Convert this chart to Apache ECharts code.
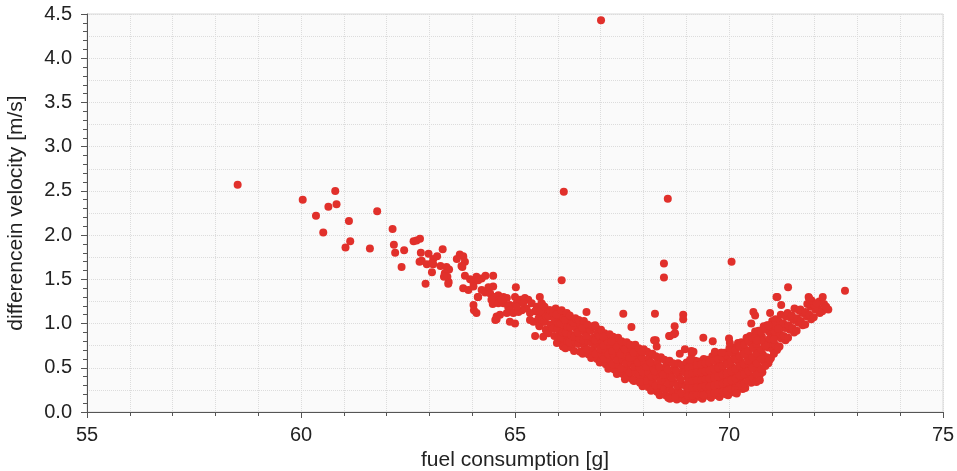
<!DOCTYPE html>
<html>
<head>
<meta charset="utf-8">
<script src="https://cdn.jsdelivr.net/npm/echarts@6/dist/echarts.min.js"></script>
<style>html,body{margin:0;padding:0;background:#fff;}#c{width:957px;height:471px;}</style>
</head>
<body>
<div id="c"></div>
<script>
// ---- data (fuel consumption [g], differencein velocity [m/s]) ----
const xTickLabels = [55, 60, 65, 70, 75];
const yTickLabels = [0.0, 0.5, 1.0, 1.5, 2.0, 2.5, 3.0, 3.5, 4.0, 4.5];

const outlierPoints = [
  [67.01,4.43],[66.14,2.49],[68.57,2.41],[70.06,1.70],[68.48,1.68],[68.48,1.52],
  [66.09,1.49],[72.71,1.37],[71.38,1.41],[67.53,1.11],[68.27,1.11],[68.93,1.10],
  [68.93,1.05],[68.73,0.97],[67.72,0.96],[66.67,1.13]
];

const leftSparse = [
  [58.52,2.57],[60.04,2.40],[60.80,2.50],[60.64,2.32],[60.83,2.35],[60.35,2.22],
  [61.12,2.16],[60.52,2.03],[61.78,2.27],[61.15,1.93],[61.04,1.86],[61.61,1.85],
  [62.14,2.07],[62.17,1.89],[62.20,1.80],[62.41,1.83],[62.35,1.64]
];

const upperBranch = [
  [62.63,1.93],[62.70,1.94],[62.78,1.96],[62.80,1.80],[62.98,1.79],[62.77,1.70],
  [62.82,1.71],[62.94,1.67],[62.91,1.45],[63.31,1.84],[63.09,1.73],[63.18,1.76],
  [63.09,1.67],[63.06,1.58],[63.05,1.68],[63.26,1.65],[63.40,1.64],[63.46,1.61],
  [63.36,1.57],[63.42,1.53],[63.45,1.47],[63.44,1.45],[63.34,1.53],[63.71,1.78],
  [63.79,1.76],[63.64,1.73],[63.83,1.70],[63.77,1.64],[63.75,1.65],[63.83,1.54],
  [63.95,1.50],[64.10,1.53],[64.22,1.51],[64.31,1.54],[64.49,1.54],[64.03,1.46],
  [64.14,1.49],[63.79,1.40],[63.91,1.38],[64.03,1.42],[64.14,1.30],[64.30,1.35],
  [64.38,1.41],[64.49,1.42],[64.42,1.34],[64.53,1.30],[64.61,1.32],[64.22,1.38],
  [64.03,1.21],[64.10,1.12],[64.13,1.30],[64.48,1.22],[64.54,1.04],[64.04,1.15],
  [64.57,1.30],[64.65,1.27],[64.73,1.30],[64.81,1.29],[64.61,1.23],[64.73,1.23],
  [64.88,1.21],[65.02,1.41],[65.00,1.30],[65.04,1.23],[64.57,1.08],[64.65,1.10],
  [64.84,1.19],[64.88,1.15],[64.96,1.12],[65.00,1.00],[64.88,1.02],[64.45,1.27],
  [64.69,1.27],[64.81,1.12],[64.57,1.05]
];

const midBand = [
  [65.12,1.27],[65.23,1.29],[65.31,1.27],[65.39,1.23],[65.51,1.19],[65.58,1.30],
  [65.62,1.23],[65.47,1.14],[65.35,1.04],[65.43,1.02],[65.58,1.10],[65.66,1.15],
  [65.74,1.12],[65.47,0.86],[65.66,0.85],[65.74,0.91],[65.90,1.10],[65.97,1.04],
  [66.05,1.08],[66.13,1.00],[66.21,0.96],[65.19,1.23],[65.27,1.17],[65.16,1.15],
  [65.08,1.13],[65.04,1.19],[65.35,1.12],[65.51,1.15],[65.57,0.98],[65.70,1.02],
  [65.86,1.12],[66.09,1.12],[66.01,0.98],[65.90,0.96],[66.05,0.91],[66.17,0.96],
  [66.21,0.85],[66.09,0.81],[66.13,0.74],[66.25,0.91],[66.25,1.04],[65.55,1.06],
  [65.80,1.15],[65.95,1.17],[66.17,1.10],[66.30,1.05]
];

// dense descending part of the V (65.6 .. 68.9 g)
const denseDescending = [
  [65.57,0.97],[65.63,1.04],[65.59,1.14],[65.64,1.21],[65.72,0.93],[65.68,1.02],[65.73,1.08],[65.69,1.19],
  [65.78,0.89],[65.83,0.99],[65.79,1.08],[65.82,1.15],[65.92,0.86],[65.88,0.94],[65.93,1.05],[65.89,1.12],
  [65.98,0.78],[66.03,0.84],[65.99,0.94],[66.02,1.00],[65.97,1.10],
  [66.12,0.74],[66.08,0.84],[66.11,0.90],[66.07,1.00],[66.13,1.06],[66.09,1.15],
  [66.18,0.72],[66.22,0.80],[66.19,0.90],[66.23,0.96],[66.17,1.04],[66.21,1.12],
  [66.32,0.73],[66.27,0.79],[66.31,0.87],[66.29,0.96],[66.33,1.02],[66.28,1.09],
  [66.38,0.69],[66.42,0.79],[66.39,0.85],[66.43,0.94],[66.37,1.01],[66.41,1.06],
  [66.52,0.68],[66.48,0.77],[66.51,0.83],[66.47,0.90],[66.53,0.99],[66.49,1.04],
  [66.58,0.66],[66.62,0.75],[66.59,0.81],[66.63,0.90],[66.57,0.95],[66.61,1.03],
  [66.72,0.65],[66.68,0.71],[66.71,0.80],[66.67,0.86],[66.73,0.95],[66.69,0.99],
  [66.78,0.61],[66.82,0.70],[66.79,0.78],[66.83,0.84],[66.77,0.92],[66.81,0.97],
  [66.92,0.60],[66.88,0.66],[66.91,0.76],[66.87,0.81],[66.93,0.89],[66.89,0.96],
  [66.98,0.56],[67.02,0.66],[66.99,0.71],[67.03,0.80],[66.97,0.86],[67.01,0.93],
  [67.12,0.54],[67.08,0.60],[67.11,0.70],[67.07,0.75],[67.13,0.84],[67.09,0.89],
  [67.18,0.49],[67.22,0.59],[67.19,0.65],[67.23,0.74],[67.17,0.80],[67.21,0.88],
  [67.32,0.48],[67.28,0.54],[67.31,0.64],[67.27,0.69],[67.33,0.79],[67.29,0.85],
  [67.38,0.43],[67.42,0.53],[67.39,0.59],[67.43,0.69],[67.37,0.75],[67.41,0.84],
  [67.52,0.43],[67.48,0.49],[67.51,0.59],[67.47,0.65],[67.53,0.75],[67.49,0.80],
  [67.58,0.39],[67.62,0.49],[67.59,0.55],[67.63,0.65],[67.57,0.71],[67.61,0.79],
  [67.72,0.38],[67.68,0.45],[67.71,0.55],[67.67,0.61],[67.73,0.71],[67.69,0.76],
  [67.78,0.35],[67.82,0.45],[67.79,0.51],[67.83,0.61],[67.77,0.67],[67.81,0.76],
  [67.92,0.33],[67.88,0.40],[67.91,0.50],[67.87,0.56],[67.93,0.66],[67.89,0.72],
  [67.98,0.29],[68.02,0.39],[67.99,0.45],[68.03,0.55],[67.97,0.61],[68.01,0.71],
  [68.12,0.28],[68.08,0.35],[68.11,0.45],[68.07,0.51],[68.13,0.61],[68.09,0.68],
  [68.18,0.24],[68.22,0.34],[68.19,0.40],[68.23,0.50],[68.17,0.56],[68.21,0.66],
  [68.32,0.23],[68.28,0.30],[68.31,0.40],[68.27,0.46],[68.33,0.56],[68.29,0.63],
  [68.38,0.19],[68.42,0.29],[68.39,0.35],[68.43,0.45],[68.37,0.51],[68.41,0.62],
  [68.52,0.19],[68.48,0.26],[68.51,0.36],[68.47,0.42],[68.53,0.52],[68.49,0.59],
  [68.58,0.16],[68.62,0.26],[68.59,0.32],[68.63,0.42],[68.57,0.48],[68.61,0.58],
  [68.72,0.16],[68.68,0.23],[68.71,0.33],[68.67,0.39],[68.73,0.49],[68.69,0.55],
  [68.78,0.14],[68.82,0.24],[68.79,0.30],[68.83,0.40],[68.77,0.46],[68.81,0.55],
  [68.92,0.15],[68.88,0.21],[68.91,0.31],[68.87,0.37],[68.93,0.47],[68.89,0.53]
];

// dense valley and rising part of the V (69.0 .. 72.2 g)
const denseRising = [
  [68.98,0.13],[69.02,0.23],[68.99,0.29],[69.03,0.39],[68.97,0.45],[69.01,0.56],
  [69.12,0.15],[69.08,0.22],[69.11,0.32],[69.07,0.38],[69.13,0.48],[69.09,0.55],
  [69.18,0.14],[69.22,0.24],[69.19,0.30],[69.23,0.40],[69.17,0.46],[69.21,0.58],
  [69.32,0.17],[69.28,0.23],[69.31,0.33],[69.27,0.39],[69.33,0.49],[69.29,0.57],
  [69.38,0.15],[69.42,0.25],[69.39,0.31],[69.43,0.41],[69.37,0.48],[69.41,0.60],
  [69.52,0.18],[69.48,0.24],[69.51,0.34],[69.47,0.40],[69.53,0.51],[69.49,0.59],
  [69.58,0.16],[69.62,0.26],[69.59,0.33],[69.63,0.43],[69.57,0.50],[69.61,0.63],
  [69.72,0.19],[69.68,0.25],[69.71,0.36],[69.67,0.43],[69.73,0.54],[69.69,0.63],
  [69.78,0.17],[69.82,0.28],[69.79,0.35],[69.83,0.46],[69.77,0.54],[69.81,0.67],
  [69.92,0.20],[69.88,0.27],[69.91,0.39],[69.87,0.46],[69.93,0.58],[69.89,0.67],
  [69.98,0.19],[70.02,0.31],[69.99,0.39],[70.03,0.51],[69.97,0.59],[70.01,0.72],
  [70.12,0.22],[70.08,0.30],[70.11,0.43],[70.07,0.51],[70.13,0.64],[70.09,0.73],
  [70.18,0.22],[70.22,0.35],[70.19,0.44],[70.23,0.56],[70.17,0.65],[70.21,0.78],
  [70.32,0.26],[70.28,0.35],[70.31,0.48],[70.27,0.57],[70.33,0.70],[70.29,0.79],
  [70.38,0.27],[70.42,0.40],[70.39,0.49],[70.43,0.62],[70.37,0.71],[70.41,0.84],
  [70.52,0.33],[70.48,0.42],[70.51,0.55],[70.47,0.64],[70.53,0.77],[70.49,0.86],
  [70.58,0.35],[70.62,0.48],[70.59,0.57],[70.63,0.69],[70.57,0.78],[70.61,0.91],
  [70.72,0.42],[70.68,0.51],[70.71,0.63],[70.67,0.71],[70.73,0.84],[70.69,0.92],
  [70.78,0.45],[70.82,0.57],[70.79,0.65],[70.83,0.77],[70.77,0.85],[70.81,0.97],
  [70.92,0.55],[70.88,0.62],[70.91,0.73],[70.87,0.80],[70.93,0.91],[70.89,0.98],
  [70.98,0.61],[71.02,0.71],[70.99,0.77],[71.03,0.87],[70.97,0.93],[71.01,1.03],
  [71.12,0.70],[71.08,0.76],[71.11,0.86],[71.07,0.91],[71.13,1.00],[71.09,1.05],
  [71.18,0.74],[71.22,0.83],[71.19,0.88],[71.23,0.97],[71.17,1.02],[71.21,1.10],
  [71.32,0.81],[71.28,0.86],[71.31,0.95],[71.27,1.00],[71.33,1.08],
  [71.38,0.84],[71.42,0.93],[71.39,0.98],[71.43,1.07],[71.37,1.12],
  [71.52,0.90],[71.48,0.95],[71.51,1.04],[71.47,1.09],[71.53,1.17],
  [71.58,0.92],[71.62,1.01],[71.59,1.06],[71.63,1.15],[71.72,0.98],[71.68,1.03],[71.71,1.12],[71.67,1.16],
  [71.78,0.99],[71.82,1.08],[71.79,1.13],[71.83,1.22],[71.92,1.05],[71.88,1.10],[71.91,1.19],[71.87,1.22],
  [71.98,1.07],[72.02,1.16],[71.99,1.21],[72.12,1.12],[72.08,1.17],[72.11,1.25],[72.18,1.14],[72.22,1.22]
];

// extra overlapping dots inside the rising mass
const risingFill = [
  [69.05,0.18],[69.05,0.34],[69.05,0.50],[69.15,0.19],[69.15,0.35],[69.15,0.52],
  [69.25,0.20],[69.25,0.36],[69.25,0.53],[69.35,0.20],[69.35,0.36],[69.35,0.54],
  [69.45,0.21],[69.45,0.37],[69.45,0.55],[69.55,0.21],[69.55,0.38],[69.55,0.56],
  [69.65,0.22],[69.65,0.39],[69.65,0.58],[69.75,0.22],[69.75,0.40],[69.75,0.60],
  [69.85,0.23],[69.85,0.42],[69.85,0.62],[69.95,0.24],[69.95,0.44],[69.95,0.64],
  [70.05,0.26],[70.05,0.46],[70.05,0.67],[70.15,0.27],[70.15,0.49],[70.15,0.70],
  [70.25,0.30],[70.25,0.52],[70.25,0.74],[70.35,0.32],[70.35,0.54],[70.35,0.76],
  [70.45,0.35],[70.45,0.58],[70.45,0.80],[70.55,0.39],[70.55,0.62],[70.55,0.84],
  [70.65,0.43],[70.65,0.66],[70.65,0.88],[70.75,0.49],[70.75,0.71],[70.75,0.91],
  [70.85,0.52],[70.85,0.75],[70.85,0.94],[70.95,0.59],[70.95,0.83],[70.95,0.97],
  [71.05,0.66],[71.05,0.82],[71.05,0.98],[71.15,0.73],[71.15,0.94],
  [69.05,0.27],[69.05,0.43],[69.15,0.27],[69.15,0.44],[69.25,0.28],[69.25,0.45],
  [69.35,0.28],[69.35,0.45],[69.45,0.29],[69.45,0.46],[69.55,0.29],[69.55,0.47],
  [69.65,0.30],[69.65,0.49],[69.75,0.31],[69.75,0.50],[69.85,0.32],[69.85,0.52],
  [69.95,0.34],[69.95,0.54],[70.05,0.36],[70.05,0.57],[70.15,0.38],[70.15,0.60],
  [70.25,0.41],[70.25,0.63],[70.35,0.43],[70.35,0.65],[70.45,0.46],[70.45,0.69],
  [70.55,0.50],[70.55,0.73],[70.65,0.55],[70.65,0.77],[70.75,0.60],[70.75,0.81]
];

const scatterAround = [
  [68.62,0.86],[68.74,0.89],[68.60,0.86],[68.71,0.88],[68.29,0.81],[68.25,0.81],
  [69.40,0.84],[69.62,0.80],[68.97,0.71],[69.12,0.69],[68.85,0.66],[69.13,0.66],
  [68.31,0.74],[70.00,0.83],[70.02,0.78],[69.67,0.68],[69.83,0.67],[70.57,1.13],
  [70.61,1.09],[70.52,1.00],[70.96,1.12],[70.92,0.98],[71.13,1.30],[71.22,1.21],
  [71.86,1.30],[71.93,1.26],[72.05,1.23],[72.19,1.30],[72.27,1.19],[72.32,1.16],
  [71.11,1.30],[71.87,1.29],[72.26,1.19],[70.64,0.34],[70.72,0.36],[67.06,0.85],
  [67.26,0.80],[66.87,0.98],[67.96,0.68],[67.57,0.37],[67.76,0.36],[67.92,0.34],
  [68.62,0.15],[68.74,0.17],[69.40,0.19],[70.14,0.25],[70.18,0.21],[69.09,0.59],
  [69.17,0.68],[70.61,0.83],[70.65,0.81]
];

const allPoints = [].concat(outlierPoints, leftSparse, upperBranch, midBand,
                            denseDescending, denseRising, risingFill, scatterAround);

const FONT = 'Liberation Sans, Arial, Helvetica, sans-serif';
const chart = echarts.init(document.getElementById('c'), null, {renderer: 'canvas'});
chart.setOption({
  animation: false,
  backgroundColor: '#ffffff',
  grid: {left: 87, right: 14, top: 14, bottom: 59, show: true, containLabel: false,
         outerBoundsMode: 'none',
         backgroundColor: '#fafafa', borderColor: '#d8d8d8', borderWidth: 1},
  xAxis: {
    type: 'value', min: xTickLabels[0], max: xTickLabels[xTickLabels.length - 1], interval: 5,
    name: 'fuel consumption [g]', nameLocation: 'middle', nameGap: 35,
    nameTextStyle: {fontFamily: FONT, fontSize: 21, color: '#222'},
    axisLine: {show: true, onZero: false, lineStyle: {color: '#555', width: 1}},
    axisTick: {show: true, length: 6, inside: false, lineStyle: {color: '#555'}},
    minorTick: {show: true, splitNumber: 5, length: 4, lineStyle: {color: '#555'}},
    axisLabel: {fontFamily: FONT, fontSize: 20, color: '#222', margin: 13},
    splitLine: {show: true, lineStyle: {color: '#dcdcdc', type: 'dotted'}},
    minorSplitLine: {show: true, lineStyle: {color: '#dcdcdc', type: 'dotted'}}
  },
  yAxis: [{
    type: 'value', min: 0, max: 4.5, interval: 0.5,
    name: 'differencein velocity [m/s]', nameLocation: 'middle', nameGap: 60,
    nameTextStyle: {fontFamily: FONT, fontSize: 21, color: '#222'},
    axisLine: {show: true, lineStyle: {color: '#555', width: 1}},
    axisTick: {show: true, length: 6, lineStyle: {color: '#555'}},
    minorTick: {show: true, splitNumber: 5, length: 4, lineStyle: {color: '#555'}},
    axisLabel: {fontFamily: FONT, fontSize: 20, color: '#222', margin: 15,
                formatter: v => v.toFixed(1)},
    splitLine: {show: false}
  }, {
    type: 'value', min: 0, max: 4.5, interval: 0.25, position: 'left',
    axisLine: {show: false}, axisTick: {show: false}, axisLabel: {show: false},
    splitLine: {show: true, lineStyle: {color: '#dcdcdc', type: 'dotted'}}
  }],
  series: [{
    type: 'scatter',
    yAxisIndex: 0,
    data: allPoints,
    symbol: 'circle',
    symbolSize: 8,
    itemStyle: {color: '#e1302b', opacity: 1},
    silent: true
  }]
});
</script>
</body>
</html>
